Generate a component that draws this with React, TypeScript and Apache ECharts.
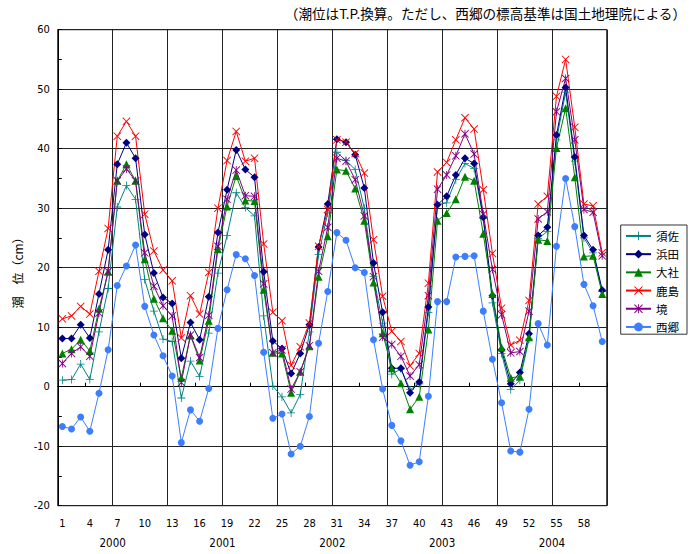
import React, { useEffect, useRef } from "react";
import * as echarts from "echarts";

const months = Array.from({ length: 60 }, (_, i) => String(i + 1));
const years = ["2000", "2001", "2002", "2003", "2004"];

const susa = [1.1, 1.2, 3.8, 1.2, 9.2, 16.5, 30.2, 33.8, 31.5, 18.0, 12.7, 8.0, 7.6, -1.9, 4.3, 1.7, 9.0, 19.1, 25.4, 32.6,
  30.1, 28.7, 11.9, 0.1, -1.7, -4.4, -1.3, 9.2, 22.2, 29.2, 39.4, 38.0, 36.5, 30.0, 18.5, 10.7, 2.1, 3.0, -0.5, 0.5,
  12.5, 30.6, 30.9, 34.8, 37.5, 36.7, 28.3, 14.1, 5.6, -0.5, 1.1, 8.0, 24.9, 26.1, 41.5, 49.5, 37.9, 25.0, 22.5, 16.0];
const hamada = [8.1, 8.1, 10.4, 8.2, 15.6, 23.0, 37.4, 41.0, 38.4, 25.6, 19.1, 15.0, 14.0, 4.8, 10.8, 7.9, 15.1, 25.9, 33.1, 39.8,
  36.5, 35.2, 19.3, 7.7, 6.4, 2.2, 5.6, 10.4, 23.5, 30.7, 41.6, 41.1, 39.0, 33.4, 20.8, 12.5, 3.1, 3.1, -1.0, 0.8,
  13.4, 30.6, 32.0, 35.6, 38.4, 37.5, 28.5, 15.3, 6.2, 0.5, 2.4, 8.9, 25.4, 26.8, 42.3, 50.3, 38.6, 25.4, 23.0, 16.2];
const taisha = [5.6, 6.3, 7.9, 6.0, 13.1, 19.3, 34.6, 37.4, 34.6, 21.4, 14.8, 11.5, 9.4, 1.5, 8.6, 4.4, 11.1, 23.1, 30.3, 35.4,
  31.3, 31.2, 16.3, 5.7, 5.6, -1.0, 2.5, 6.8, 18.5, 25.3, 36.5, 36.3, 33.3, 27.9, 17.5, 9.0, 3.1, 0.6, -3.8, -1.7,
  9.6, 27.9, 29.2, 31.5, 35.3, 34.6, 25.7, 15.6, 6.6, 1.5, 1.7, 8.3, 24.7, 24.5, 40.1, 46.8, 35.2, 21.9, 22.0, 15.6];
const kashima = [11.4, 11.9, 13.5, 12.2, 19.4, 26.6, 42.1, 44.6, 42.1, 29.0, 22.8, 19.6, 17.8, 8.2, 15.3, 12.2, 19.2, 30.0, 38.0, 42.9,
  37.9, 38.4, 24.0, 12.5, 11.1, 3.6, 6.7, 10.7, 23.6, 29.8, 41.5, 41.1, 39.2, 35.9, 24.7, 15.2, 9.3, 7.6, 3.5, 5.6,
  17.4, 36.1, 37.7, 41.5, 45.2, 43.3, 33.1, 22.4, 13.2, 7.0, 7.8, 14.5, 30.7, 32.0, 48.8, 55.0, 43.6, 30.7, 30.4, 22.5];
const sakai = [3.9, 5.6, 6.7, 5.1, 12.4, 19.4, 34.6, 36.6, 34.6, 22.5, 16.9, 13.6, 11.9, 0.7, 8.7, 4.9, 12.0, 23.6, 31.5, 36.4,
  32.1, 32.0, 17.3, 5.7, 6.2, -0.4, 2.5, 6.9, 19.4, 26.8, 38.4, 37.9, 34.8, 28.7, 18.5, 8.3, 7.1, 5.1, 1.8, 3.7,
  15.3, 33.2, 35.6, 38.8, 42.5, 39.1, 29.0, 19.7, 12.1, 5.7, 5.9, 12.7, 28.2, 29.4, 46.2, 51.8, 41.5, 29.8, 29.3, 22.0];
const saigo = [-6.7, -7.1, -5.1, -7.5, -1.1, 6.2, 17.0, 20.3, 23.8, 13.5, 8.7, 5.2, 1.8, -9.4, -3.9, -5.8, -0.3, 9.8, 16.3, 22.2,
  21.5, 18.7, 5.8, -5.3, -4.6, -11.3, -10.0, -5.0, 7.3, 16.0, 25.9, 24.6, 20.0, 19.2, 7.9, -0.4, -6.5, -9.1, -13.2, -12.6,
  -1.6, 14.3, 14.3, 21.8, 21.9, 22.0, 12.7, 4.6, -2.7, -10.8, -11.0, -3.8, 10.6, 7.0, 23.6, 35.0, 26.9, 17.2, 13.6, 7.6];

const titleText = "（潮位はT.P.換算。ただし、西郷の標高基準は国土地理院による）";
const yName = "潮　位（cm）";

const PLUS = "path://M4.5,0h1v4.5h4.5v1h-4.5v4.5h-1v-4.5h-4.5v-1h4.5z";
const CROSS = "path://M0,0.8L0.8,0L5,4.2L9.2,0L10,0.8L5.8,5L10,9.2L9.2,10L5,5.8L0.8,10L0,9.2L4.2,5Z";
const STAR = "path://M0,0.8L0.8,0L5,4.2L9.2,0L10,0.8L5.8,5L10,9.2L9.2,10L5,5.8L0.8,10L0,9.2L4.2,5ZM4.5,0h1v10h-1z";

const CJK = "'Noto Sans CJK JP', sans-serif";
const NUM = "'Liberation Sans Narrow', 'DejaVu Sans Condensed', 'Noto Sans CJK JP', sans-serif";

export default function App() {
  const ref = useRef<HTMLDivElement>(null);
  useEffect(() => {
    document.body.style.margin = "0";
    if (!ref.current) return;
    const chart = echarts.init(ref.current, undefined, { renderer: "svg" });
    const mk = (name: string, data: number[], color: string, symbol: string, size: number) => ({
      name,
      type: "line",
      data,
      xAxisIndex: 0,
      yAxisIndex: 0,
      symbol,
      symbolSize: size,
      showAllSymbol: true,
      lineStyle: { color, width: 1 },
      itemStyle: { color, borderWidth: 0 },
      color,
      z: 3,
    });
    chart.setOption({
      animation: false,
      backgroundColor: "#fff",
      grid: {
        left: 57.8, right: 84.2, top: 29.7, bottom: 48.3,
        show: true, borderColor: "#000", borderWidth: 1, backgroundColor: "transparent",
      },
      legend: {
        orient: "vertical",
        left: 620.7,
        top: 225,
        itemWidth: 25,
        itemHeight: 11,
        itemGap: 6.7,
        padding: [5.2, 8, 1.5, 4.3],
        borderColor: "#333",
        borderWidth: 1,
        backgroundColor: "#fff",
        textStyle: { fontFamily: CJK, fontSize: 11.5, color: "#000" },
        data: ["須佐", "浜田", "大社", "鹿島", "境", "西郷"],
      },
      xAxis: [
        {
          type: "category",
          data: months,
          boundaryGap: true,
          axisLine: { show: true, lineStyle: { color: "#000", width: 1 } },
          axisTick: { show: true, inside: true, interval: 2, length: 4, lineStyle: { color: "#000" } },
          axisLabel: { interval: 2, margin: 12, fontFamily: NUM, fontSize: 11, color: "#000" },
          splitLine: { show: true, interval: 5, lineStyle: { color: "#222", width: 1 } },
        },
        {
          type: "category",
          data: years,
          position: "bottom",
          offset: 20,
          boundaryGap: true,
          axisLine: { show: false },
          axisTick: { show: false },
          splitLine: { show: false },
          axisLabel: { margin: 12, fontFamily: NUM, fontSize: 11.5, color: "#000" },
        },
      ],
      yAxis: {
        type: "value",
        min: -20,
        max: 60,
        interval: 10,
        axisLine: { show: true, lineStyle: { color: "#000", width: 1 } },
        axisTick: { show: true, inside: true, length: 4, lineStyle: { color: "#000" } },
        minorTick: { show: true, splitNumber: 2, length: 4, lineStyle: { color: "#000" } },
        axisLabel: { margin: 8, fontFamily: NUM, fontSize: 11, color: "#000" },
        splitLine: { show: true, lineStyle: { color: "#222", width: 1 } },
      },
      graphic: [
        {
          type: "text",
          x: 686,
          y: 12.7,
          style: {
            text: titleText, fontFamily: CJK, fontSize: 13.6, fill: "#000",
            textAlign: "right", textVerticalAlign: "middle",
          },
        },
        {
          type: "text",
          x: 17,
          y: 270,
          rotation: Math.PI / 2,
          style: {
            text: yName, fontFamily: CJK, fontSize: 12, fill: "#000",
            textAlign: "center", textVerticalAlign: "middle",
          },
        },
      ],
      series: [
        mk("須佐", susa, "#008080", PLUS, 8),
        mk("浜田", hamada, "#000080", "diamond", 8),
        mk("大社", taisha, "#008000", "triangle", 8),
        mk("鹿島", kashima, "#FF0000", CROSS, 8),
        mk("境", sakai, "#800080", STAR, 8),
        mk("西郷", saigo, "#3D7EFF", "circle", 7),
      ],
    });
    return () => chart.dispose();
  }, []);
  return <div ref={ref} style={{ width: 691, height: 554 }} />;
}
